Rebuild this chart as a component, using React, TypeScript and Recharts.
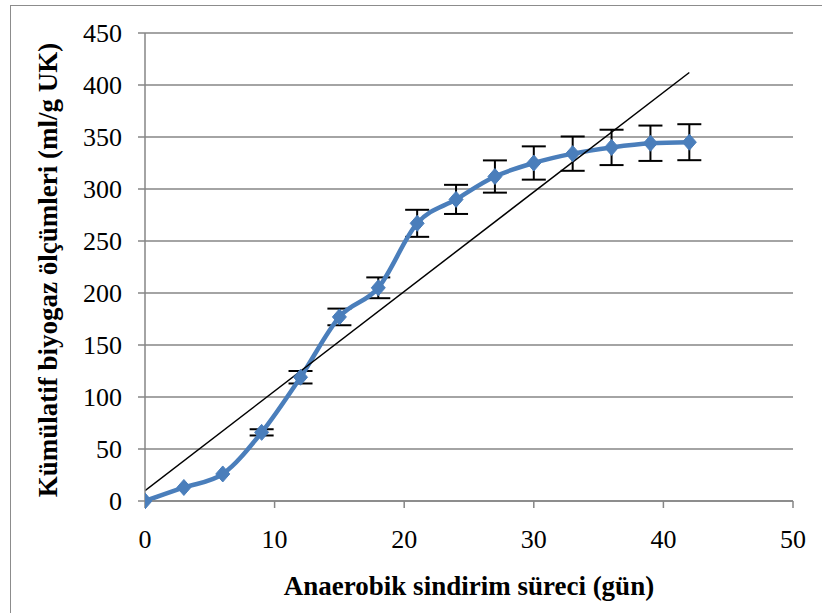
import React from 'react'
import { LineChart, Line, XAxis, YAxis, CartesianGrid, ErrorBar } from 'recharts'

const DAYS = [0, 3, 6, 9, 12, 15, 18, 21, 24, 27, 30, 33, 36, 39, 42]
const BIOGAS = [0, 13, 26, 66, 119, 177, 205, 267, 290, 312, 325, 334, 340, 344, 345]
const STD_DEV = [0, 0, 0, 3, 6, 8, 10, 13, 14, 15.5, 16, 16.5, 17, 17, 17.3]
const TREND_X = [0, 42]
const TREND_Y = [10, 412]
const X_TICKS = [0, 10, 20, 30, 40, 50]
const Y_TICKS = [0, 50, 100, 150, 200, 250, 300, 350, 400, 450]

const FONT = 'Liberation Serif'
const BLUE = '#4A7EBB'
const GRID = '#868686'

const measured = DAYS.map((x, i) => ({ x, y: BIOGAS[i], err: STD_DEV[i] }))
const trend = TREND_X.map((x, i) => ({ x, y: TREND_Y[i] }))

const Diamond = (props: any) => {
  const { cx, cy } = props
  if (cx == null || cy == null) return null
  return (
    <polygon
      points={`${cx},${cy - 8} ${cx + 7},${cy} ${cx},${cy + 8} ${cx - 7},${cy}`}
      fill={BLUE}
      stroke={BLUE}
    />
  )
}

const XTick = ({ x, y, payload }: any) => (
  <text x={x} y={y} dy="0.71em" textAnchor="middle" fontSize={26} style={{ fontFamily: FONT }} fill="#000">
    {payload.value}
  </text>
)

const YTick = ({ x, y, payload }: any) => (
  <text x={x} y={y} dy="0.36em" textAnchor="end" fontSize={26} style={{ fontFamily: FONT }} fill="#000">
    {payload.value}
  </text>
)

const XTitle = ({ viewBox }: any) => (
  <text
    x={viewBox.x + viewBox.width / 2}
    y={595}
    textAnchor="middle"
    fontSize={27}
    fontWeight="bold"
    style={{ fontFamily: FONT }}
    fill="#000"
  >
    Anaerobik sindirim süreci (gün)
  </text>
)

const YTitle = () => (
  <text
    x={57}
    y={270}
    transform="rotate(-90, 57, 270)"
    textAnchor="middle"
    fontSize={27}
    fontWeight="bold"
    style={{ fontFamily: FONT }}
    fill="#000"
  >
    Kümülatif biyogaz ölçümleri (ml/g UK)
  </text>
)

export default function App() {
  return (
    <div
      style={{
        position: 'absolute',
        left: 0,
        top: 0,
        width: 822,
        height: 613,
        overflow: 'hidden',
        background: '#fff',
        fontFamily: FONT,
      }}
    >
      <div style={{ position: 'absolute', left: 10, top: 5, width: 830, height: 620, border: '1px solid #8c8c8c' }} />
      <div style={{ position: 'absolute', left: 0, top: 0 }}>
        <LineChart width={822} height={613} margin={{ top: 33, right: 29, bottom: 0, left: 65 }}>
          <CartesianGrid vertical={false} stroke={GRID} strokeWidth={1.5} />
          <XAxis
            type="number"
            dataKey="x"
            domain={[0, 50]}
            ticks={X_TICKS}
            allowDataOverflow
            height={112}
            stroke={GRID}
            strokeWidth={1.5}
            tickSize={7}
            tick={<XTick />}
            tickMargin={22}
            label={<XTitle />}
          />
          <YAxis
            type="number"
            domain={[0, 450]}
            ticks={Y_TICKS}
            width={80}
            stroke={GRID}
            strokeWidth={1.5}
            tickSize={7}
            tick={<YTick />}
            tickMargin={16}
            label={<YTitle />}
          />
          <Line
            data={measured}
            dataKey="y"
            type="monotone"
            stroke={BLUE}
            strokeWidth={4.5}
            dot={<Diamond />}
            activeDot={false}
            isAnimationActive={false}
          >
            <ErrorBar dataKey="err" direction="y" width={12} stroke="#000" strokeWidth={2} />
          </Line>
          <Line
            data={trend}
            dataKey="y"
            type="linear"
            stroke="#000"
            strokeWidth={1.5}
            dot={false}
            activeDot={false}
            isAnimationActive={false}
          />
        </LineChart>
      </div>
    </div>
  )
}
